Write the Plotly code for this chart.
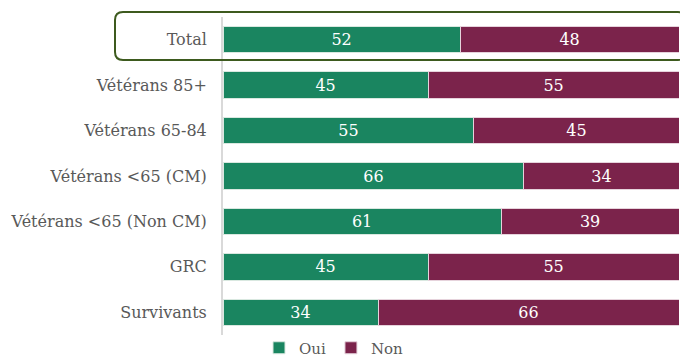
import plotly.graph_objects as go

categories = ["Total", "Vétérans 85+", "Vétérans 65-84", "Vétérans <65 (CM)",
              "Vétérans <65 (Non CM)", "GRC", "Survivants"]
oui = [52, 45, 55, 66, 61, 45, 34]
non = [48, 55, 45, 34, 39, 55, 66]

FONT = "DejaVu Serif"
fig = go.Figure()
fig.add_trace(go.Bar(y=categories, x=oui, name="Oui", orientation="h",
                     marker=dict(color="#1a8560", line=dict(color="#d9e8e0", width=1)),
                     text=oui, textposition="inside", insidetextanchor="middle",
                     textfont=dict(color="white", size=16, family=FONT)))
fig.add_trace(go.Bar(y=categories, x=non, name="Non", orientation="h",
                     marker=dict(color="#7b234b", line=dict(color="#e6d3dc", width=1)),
                     text=non, textposition="inside", insidetextanchor="middle",
                     textfont=dict(color="white", size=16, family=FONT)))

# page body has an 8px margin; figure is sized to fill the rest of the window
OFF = 8
W, H = 688 - OFF, 360 - OFF
ml, mr, mt, mb = 223 - OFF, 9, 17 - OFF, 25
pw, ph = W - ml - mr, H - mt - mb

def px(x):
    return (x - OFF - ml) / pw

def py(y):
    return (H - mb - (y - OFF)) / ph

x0, x1, y0, y1, r = 115, 686, 12, 60, 8
path = (f"M {px(x0 + r)},{py(y0)} L {px(x1 - r)},{py(y0)} "
        f"Q {px(x1)},{py(y0)} {px(x1)},{py(y0 + r)} "
        f"L {px(x1)},{py(y1 - r)} Q {px(x1)},{py(y1)} {px(x1 - r)},{py(y1)} "
        f"L {px(x0 + r)},{py(y1)} Q {px(x0)},{py(y1)} {px(x0)},{py(y1 - r)} "
        f"L {px(x0)},{py(y0 + r)} Q {px(x0)},{py(y0)} {px(x0 + r)},{py(y0)} Z")

fig.update_layout(
    width=W, height=H, barmode="stack", bargap=0.42,
    margin=dict(l=ml, r=mr, t=mt, b=mb, autoexpand=False),
    paper_bgcolor="white", plot_bgcolor="white",
    font=dict(family=FONT, color="#595959", size=16),
    xaxis=dict(range=[0, 100], visible=False, fixedrange=True, automargin=False),
    yaxis=dict(autorange="reversed", showline=True, linecolor="#d9d9d9", linewidth=2,
               ticks="", ticklabelstandoff=11, automargin=False,
               tickfont=dict(size=16, color="#595959")),
    legend=dict(orientation="h", x=px(334), xanchor="center",
                y=py(348), yanchor="middle", traceorder="normal",
                font=dict(size=15, color="#595959"), itemwidth=30, tracegroupgap=0),
    shapes=[dict(type="path", path=path, xref="paper", yref="paper",
                 line=dict(color="#3d5a1e", width=2))],
    showlegend=True,
)
fig.write_html("out.html")
